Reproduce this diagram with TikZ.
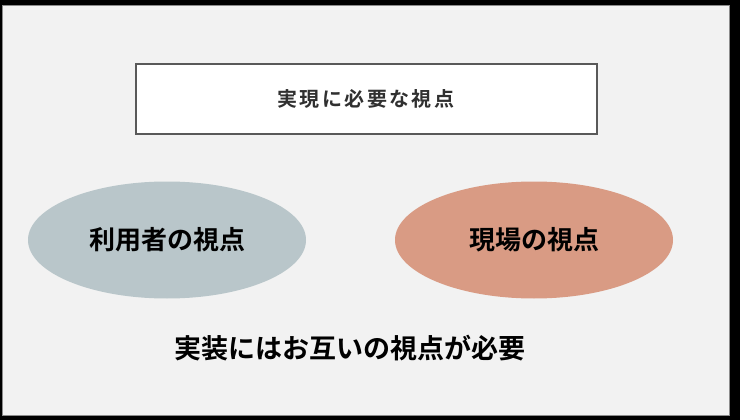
\documentclass[tikz,border=0pt]{standalone}
\usepackage{fontspec}
\newfontfamily\jp{Noto Sans CJK JP}[BoldFont={Noto Sans CJK JP Bold}]
\newfontfamily\jpsp{Noto Sans CJK JP Bold}[LetterSpace=12]
\usetikzlibrary{shapes.geometric}
\definecolor{bgray}{HTML}{F2F2F2}
\definecolor{frameg}{HTML}{8C8C8C}
\definecolor{boxline}{HTML}{595959}
\definecolor{userfill}{HTML}{B9C6CA}
\definecolor{sitefill}{HTML}{D99B84}
\definecolor{titletext}{HTML}{303030}
\tikzset{
  x=1pt, y=1pt,
  ovalnode/.style={ellipse, minimum width=278pt, minimum height=117pt, inner sep=0pt, draw=none},
  ovaltext/.style={font=\jp\bfseries\fontsize{26}{30}\selectfont, text=black},
}
\begin{document}
\begin{tikzpicture}
\useasboundingbox (0,0) rectangle (740,-420);
\fill[black] (0,0) rectangle (740,-420);
\fill[bgray, draw=frameg, line width=1pt] (2.5,-5.5) rectangle (729.5,-415.5);
\node[draw=boxline, line width=2pt, fill=white, minimum width=461pt, minimum height=70pt, inner sep=0pt,
  font=\jpsp\fontsize{20}{24}\selectfont, text=titletext] (title) at (366,-99) {実現に必要な視点};
\node[ovalnode, fill=userfill, ovaltext] (user) at (167,-240) {利用者の視点};
\node[ovalnode, fill=sitefill, ovaltext] (site) at (534,-240) {現場の視点};
\node[font=\jp\bfseries\fontsize{27}{32}\selectfont, text=black] (concl) at (350,-348) {実装にはお互いの視点が必要};
\end{tikzpicture}
\end{document}
